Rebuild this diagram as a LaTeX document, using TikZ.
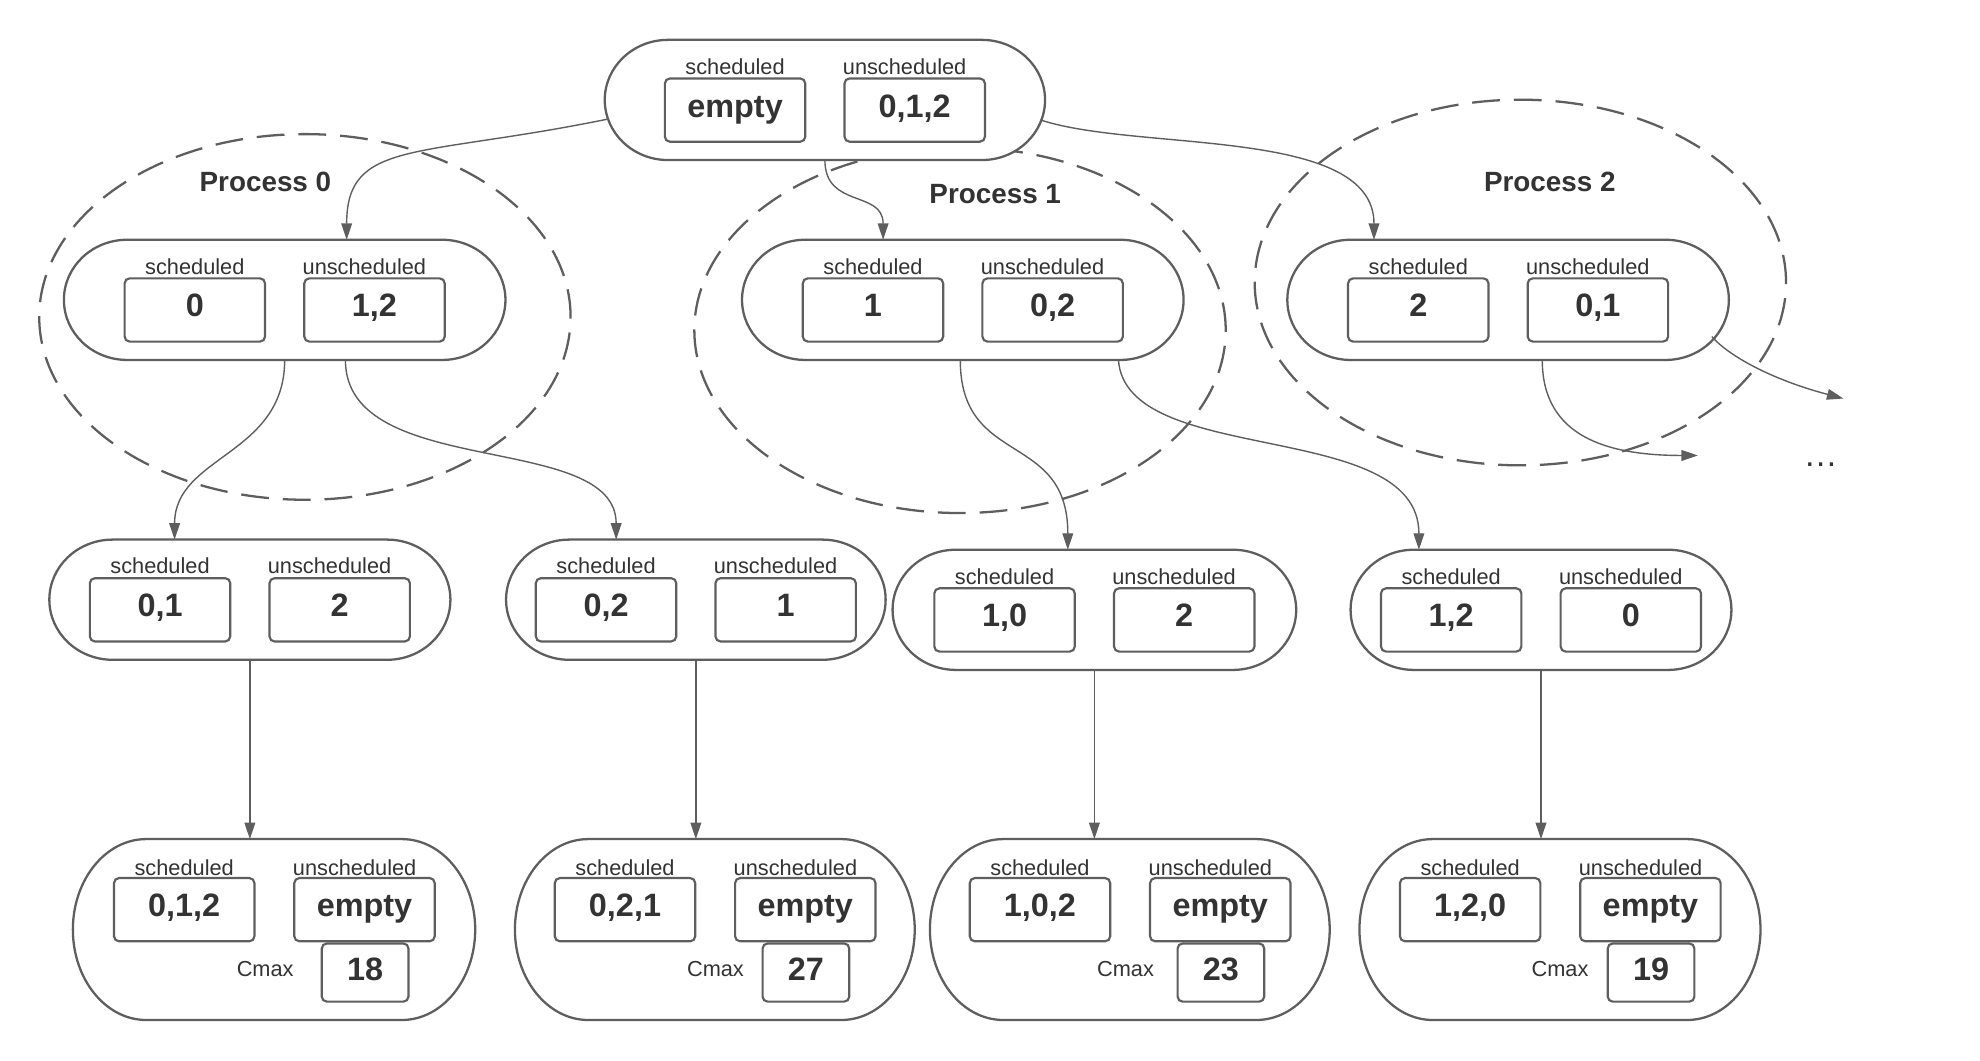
\documentclass[tikz,border=0pt]{standalone}
\usepackage{fontspec}
\setmainfont{Liberation Sans}
\usetikzlibrary{shapes.geometric,arrows.meta,calc}
\definecolor{linegray}{HTML}{5E5E5E}
\definecolor{conngray}{HTML}{5E5E5E}
\definecolor{txtc}{HTML}{333333}
\tikzset{
 pillnode/.style={inner sep=0pt,outer sep=0pt,draw=none},
 pillline/.style={draw=linegray,line width=1.8pt,fill=white},
 valbox/.style={draw=linegray,line width=1.7pt,rounded corners=4pt,minimum width=111pt,minimum height=50pt,inner sep=0pt,text height=18pt,text depth=7pt,font=\bfseries\fontsize{25.6}{30}\selectfont,text=txtc,fill=white},
 cmaxbox/.style={valbox,minimum width=68.5pt,minimum height=46pt,text depth=6pt},
 lbl/.style={anchor=base,inner sep=0pt,font=\fontsize{17.2}{20}\selectfont,text=txtc},
 proclbl/.style={anchor=base,inner sep=0pt,font=\bfseries\fontsize{22}{26}\selectfont,text=txtc},
 procell/.style={ellipse,draw=linegray,line width=1.8pt,dash pattern=on 22pt off 11pt,inner sep=0pt,minimum width=420pt,minimum height=289pt},
 conn/.style={draw=conngray,line width=1.1pt,-{Triangle[length=13pt,width=8.5pt]}},
}
\newcommand{\pillshape}[3]{%
 \draw[pillline] ($(#1.north west)+(#2pt,0)$) -- ($(#1.north east)+(-#2pt,0)$)
   arc[start angle=90,end angle=-90,x radius=#2pt,y radius=#3pt]
   -- ($(#1.south west)+(#2pt,0)$)
   arc[start angle=270,end angle=90,x radius=#2pt,y radius=#3pt] -- cycle;}
\newcommand{\smallstate}[6]{%
 \node[pillnode,minimum width=#4pt,minimum height=95pt] (#1) at (#2,#3) {};
 \pillshape{#1}{50}{47.5}
 \node[valbox] (#1s) at ($(#1.center)+(-71,8)$) {#5};
 \node[valbox] (#1u) at ($(#1.center)+(71,8)$) {#6};
 \node[lbl] (#1ls) at ($(#1.center)+(-71,-20.4)$) {scheduled};
 \node[lbl] (#1lu) at ($(#1.center)+(63,-20.4)$) {unscheduled};
}
\newcommand{\bigstate}[7]{%
 \node[pillnode,minimum width=#4pt,minimum height=143pt] (#1) at (#2,#3) {};
 \pillshape{#1}{58}{71.5}
 \node[valbox] (#1s) at ($(#1.center)+(-71,-15.7)$) {#5};
 \node[valbox] (#1u) at ($(#1.center)+(71.5,-15.7)$) {empty};
 \node[cmaxbox] (#1c) at ($(#1.center)+(72,34)$) {#6};
 \node[lbl] (#1ls) at ($(#1.center)+(-71,-43)$) {scheduled};
 \node[lbl] (#1lu) at ($(#1.center)+(63.7,-43)$) {unscheduled};
 \node[lbl] (#1lc) at ($(#1.center)+(#7,37.3)$) {Cmax};
}
\begin{document}
\begin{tikzpicture}[x=1pt,y=-1pt]
\useasboundingbox (0,0) rectangle (1565,838);
\fill[white] (0,0) rectangle (1565,838);
% process ellipses
\node[procell] (proc0) at (241,250.5) {};
\node[procell] (proc1) at (758.8,261) {};
\node[procell] (proc2) at (1201.7,223.3) {};
% states
\smallstate{top}{652}{79}{348}{empty}{0,1,2}
\smallstate{s0}{225}{237}{349}{0}{1,2}
\smallstate{s1}{761}{237}{349}{1}{0,2}
\smallstate{s2}{1192}{237}{349}{2}{0,1}
\smallstate{s01}{197.5}{474}{317}{0,1}{2}
\smallstate{s02}{550}{474}{300}{0,2}{1}
\smallstate{s10}{865}{482}{319}{1,0}{2}
\smallstate{s12}{1218}{482}{301}{1,2}{0}
\bigstate{s012}{216.6}{734.7}{318}{0,1,2}{18}{-7}
\bigstate{s021}{565}{734.7}{316}{0,2,1}{27}{0.5}
\bigstate{s102}{893}{734.7}{316}{1,0,2}{23}{-3.4}
\bigstate{s120}{1233}{734.7}{317}{1,2,0}{19}{0}
% process labels
\node[proclbl] (proc0t) at (209.8,151.5) {Process 0};
\node[proclbl] (proc1t) at (786.6,161) {Process 1};
\node[proclbl] (proc2t) at (1225,151.5) {Process 2};
\node[anchor=base,inner sep=0pt,font=\fontsize{27}{30}\selectfont,text=txtc] (dots) at (1439,369) {…};
% connectors
\draw[conn] ($(top.center)+(-171,15)$) .. controls (330,125) and (274,110) .. ($(s0.north)+(49,0)$);
\draw[conn] (top.south) .. controls (652,165) and (698,150) .. ($(s1.north)+(-63,0)$);
\draw[conn] ($(top.center)+(171,16)$) .. controls (900,120) and (1086,100) .. ($(s2.north)+(-106,0)$);
\draw[conn] (s0.south) .. controls (225,360) and (138,360) .. ($(s01.north)+(-59.5,0)$);
\draw[conn] ($(s0.south)+(48,0)$) .. controls (273,380) and (487,340) .. ($(s02.north)+(-63,0)$);
\draw[conn] ($(s1.south)+(-2,0)$) .. controls (759,370) and (844,340) .. ($(s10.north)+(-21,0)$);
\draw[conn] ($(s1.south)+(123,0)$) .. controls (890,370) and (1121.5,330) .. ($(s12.north)+(-96.5,0)$);
\coordinate (more1) at (1457,315);
\coordinate (more2) at (1342,360);
\draw[conn] ($(s2.center)+(161,29)$) .. controls (1366,281) and (1400,300) .. (more1);
\draw[conn] ($(s2.south)+(27,0)$) .. controls (1219,345) and (1270,360) .. (more2);
\draw[conn] (s01.south) -- (s01.south |- s012.north);
\draw[conn] (s02.south) -- (s02.south |- s021.north);
\draw[conn] (s10.south) -- (s10.south |- s102.north);
\draw[conn] (s12.south) -- (s12.south |- s120.north);
\end{tikzpicture}
\end{document}
